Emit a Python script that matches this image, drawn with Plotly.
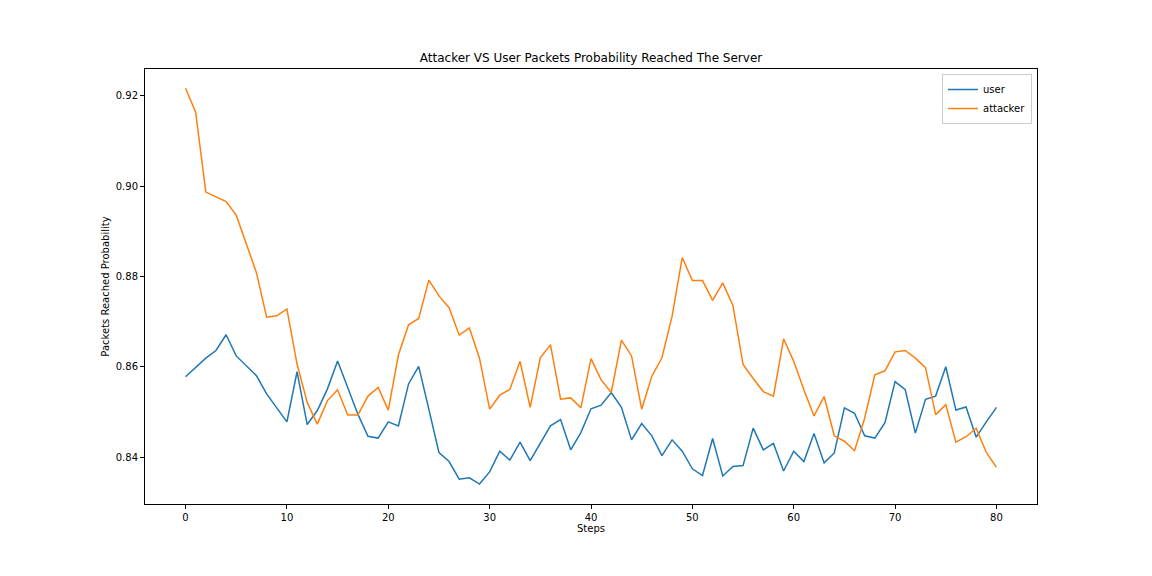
import plotly.graph_objects as go

steps = list(range(81))

user = [
    0.8578, 0.8599, 0.8619, 0.8636, 0.8671, 0.8624, 0.8602, 0.8580, 0.8540, 0.8508,
    0.8478, 0.8589, 0.8472, 0.8503, 0.8551, 0.8613, 0.8552, 0.8495, 0.8446, 0.8442,
    0.8478, 0.8469, 0.8562, 0.8601, 0.8506, 0.8410, 0.8390, 0.8351, 0.8354, 0.8340,
    0.8367, 0.8413, 0.8393, 0.8433, 0.8392, 0.8432, 0.8469, 0.8483, 0.8416, 0.8454,
    0.8507, 0.8515, 0.8543, 0.8510, 0.8438, 0.8474, 0.8447, 0.8403, 0.8438, 0.8413,
    0.8374, 0.8359, 0.8441, 0.8358, 0.8379, 0.8381, 0.8464, 0.8416, 0.8430, 0.8369,
    0.8413, 0.8390, 0.8452, 0.8387, 0.8409, 0.8509, 0.8497, 0.8447, 0.8442, 0.8476,
    0.8567, 0.8549, 0.8453, 0.8528, 0.8535, 0.8600, 0.8504, 0.8511, 0.8444, 0.8478,
    0.8510,
]

attacker = [
    0.9217, 0.9164, 0.8987, 0.8977, 0.8966, 0.8936, 0.8872, 0.8808, 0.8710, 0.8713,
    0.8728, 0.8606, 0.8521, 0.8473, 0.8525, 0.8549, 0.8493, 0.8493, 0.8535, 0.8554,
    0.8504, 0.8626, 0.8693, 0.8707, 0.8792, 0.8757, 0.8731, 0.8670, 0.8686, 0.8619,
    0.8506, 0.8537, 0.8550, 0.8612, 0.8510, 0.8620, 0.8649, 0.8528, 0.8531, 0.8509,
    0.8618, 0.8571, 0.8543, 0.8659, 0.8624, 0.8506, 0.8579, 0.8620, 0.8712, 0.8842,
    0.8791, 0.8791, 0.8747, 0.8786, 0.8736, 0.8605, 0.8574, 0.8545, 0.8535, 0.8662,
    0.8612, 0.8549, 0.8491, 0.8534, 0.8447, 0.8435, 0.8414, 0.8486, 0.8582, 0.8591,
    0.8633, 0.8636, 0.8619, 0.8598, 0.8494, 0.8516, 0.8433, 0.8445, 0.8464, 0.8410,
    0.8377,
]

x_ticks = [0, 10, 20, 30, 40, 50, 60, 70, 80]
y_ticks = [0.84, 0.86, 0.88, 0.90, 0.92]

fig = go.Figure()
fig.add_trace(go.Scatter(x=steps, y=user, mode="lines", name="user",
                         line=dict(color="#1f77b4", width=1.5)))
fig.add_trace(go.Scatter(x=steps, y=attacker, mode="lines", name="attacker",
                         line=dict(color="#ff7f0e", width=1.5)))

axis_common = dict(
    showgrid=False, zeroline=False, showline=True, mirror=True,
    linecolor="black", linewidth=1, ticks="outside", ticklen=4,
    tickcolor="black", tickwidth=1,
    tickfont=dict(family="DejaVu Sans", size=10, color="black"),
)

# page has an 8px body offset; margins are chosen so the plot area lands at
# x 145-1037, y 69-504 in the screenshot
L, T, R, B = 137, 61, 123, 80
W, H = 1152, 576

fig.update_layout(
    width=W, height=H,
    paper_bgcolor="white", plot_bgcolor="white",
    margin=dict(l=L, r=R, t=T, b=B),
    font=dict(family="DejaVu Sans", size=10, color="black"),
    title=dict(text="Attacker VS User Packets Probability Reached The Server",
               x=(L + (W - R)) / 2 / W, xanchor="center",
               y=1 - 50 / H, yanchor="middle",
               font=dict(family="DejaVu Sans", size=12, color="black")),
    xaxis=dict(range=[-4, 84], tickvals=x_ticks,
               title=dict(text="Steps", font=dict(size=10), standoff=2),
               **axis_common),
    yaxis=dict(range=[0.82959, 0.92598], tickvals=y_ticks,
               ticktext=[f"{v:.2f}" for v in y_ticks],
               title=dict(text="Packets Reached Probability", font=dict(size=10), standoff=4),
               **axis_common),
    legend=dict(x=1 - 5 / 892, y=1 - 5 / 435, xanchor="right", yanchor="top",
                bgcolor="rgba(255,255,255,0.8)", bordercolor="#cccccc", borderwidth=1,
                font=dict(family="DejaVu Sans", size=10, color="black"),
                tracegroupgap=0, itemwidth=30),
)

fig.write_html("out.html")
